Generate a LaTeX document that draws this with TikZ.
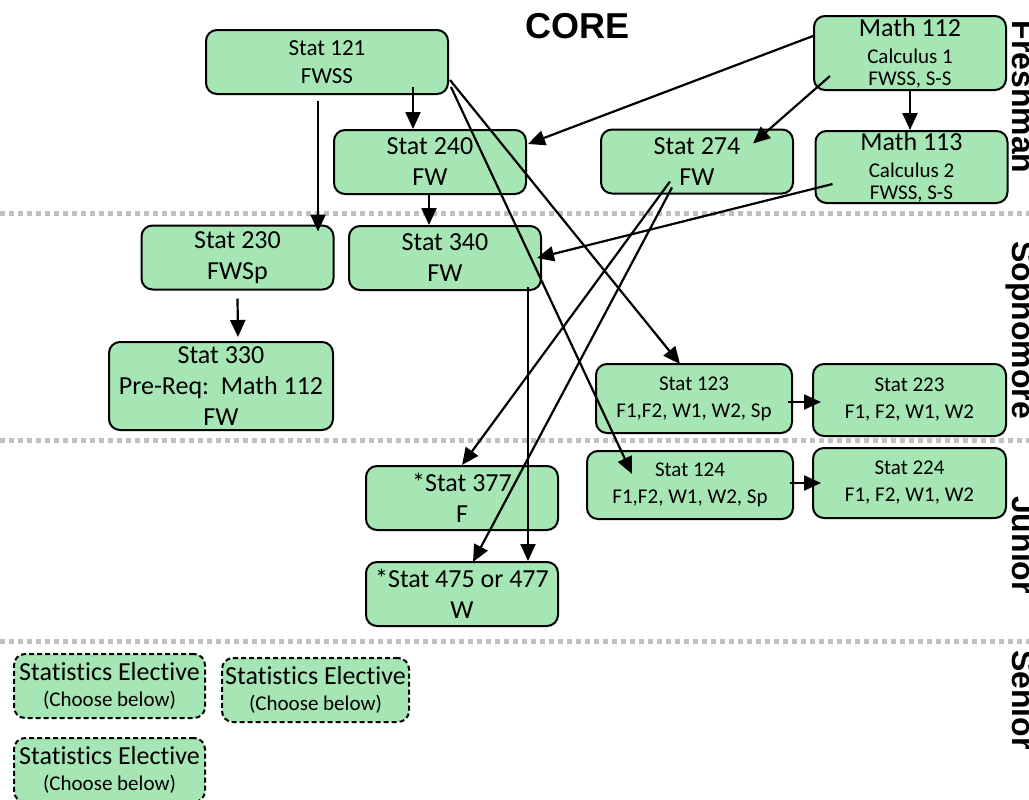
\documentclass[tikz,border=0pt]{standalone}
\usepackage{fontspec}
\setmainfont{Carlito}[Ligatures=NoCommon]
\newfontfamily\headfont{Liberation Sans}
\usepackage{xcolor}
\usetikzlibrary{calc,positioning,arrows.meta}
\definecolor{boxgreen}{RGB}{166,230,180}
\definecolor{sepgray}{RGB}{192,192,192}

\begin{document}
\begin{tikzpicture}[x=0.5pt, y=-0.5pt, >={Triangle[length=8.5pt, width=7.5pt]}]
\tikzstyle{crs}=[draw, fill=boxgreen, line width=1pt, rounded corners=5.5pt, inner sep=0pt, align=center, minimum width=96pt, minimum height=32pt, font=\fontsize{13}{15.5}\selectfont]
\tikzstyle{sml}=[font=\fontsize{10.5}{13.5}\selectfont]
\tikzstyle{elec}=[crs, dash pattern=on 2.5pt off 1.5pt, font=\fontsize{10.5}{13}\selectfont]
\tikzstyle{yr}=[rotate=-90, anchor=base, font=\headfont\bfseries\fontsize{16}{16}\selectfont]
\tikzstyle{sep}=[sepgray, line width=2.5pt, dash pattern=on 2.5pt off 2pt]
\tikzstyle{arr}=[->, line width=1.1pt]

\useasboundingbox (0,0) rectangle (1029,799);

% year separators
\draw[sep] (0,213) -- (1029,213);
\draw[sep] (0,440) -- (1029,440);
\draw[sep] (0,641) -- (1029,641);

\node[anchor=base, font=\headfont\bfseries\fontsize{18}{18}\selectfont] (core) at (578,38) {CORE};
\node[yr] (fresh) at (1012,97) {Freshman};
\node[yr] (soph) at (1012,330) {Sophomore};
\node[yr] (jun) at (1012,545) {Junior};
\node[yr] (sen) at (1012,700) {Senior};

% core courses
\node[crs, minimum width=121pt, font=\fontsize{11.5}{14}\selectfont] (s121) at (327,62) {Stat 121\\FWSS};
\node[crs] (s240) at (430,162) {Stat 240\\FW};
\node[crs] (s274) at (697,161.5) {Stat 274\\FW};
\node[crs, minimum height=37pt, font=\fontsize{10.5}{11}\selectfont] (m112) at (910,53) {{\fontsize{13}{13}\selectfont Math 112}\\[2.5pt]Calculus 1\\FWSS, S-S};
\node[crs, minimum height=36pt, font=\fontsize{10.5}{11}\selectfont] (m113) at (911.5,167) {{\fontsize{13}{13}\selectfont Math 113}\\[2.5pt]Calculus 2\\FWSS, S-S};
\node[crs] (s230) at (237.5,257.5) {Stat 230\\FWSp};
\node[crs] (s340) at (445,258) {Stat 340\\FW};
\node[crs, minimum width=112pt, minimum height=44pt] (s330) at (221,386) {Stat 330\\Pre-Req:\ \ Math 112\\FW};
\node[crs, sml, minimum width=98pt, minimum height=34.5pt] (s123) at (694,398.5) {Stat 123\\F1,F2, W1, W2, Sp};
\node[crs, sml, minimum width=96.5pt, minimum height=36pt] (s223) at (909.5,400) {Stat 223\\F1, F2, W1, W2};
\node[crs, sml, minimum width=103pt, minimum height=34pt] (s124) at (690,485) {Stat 124\\F1,F2, W1, W2, Sp};
\node[crs, sml, minimum width=96.5pt, minimum height=35pt] (s224) at (909.5,483) {Stat 224\\F1, F2, W1, W2};
\node[crs] (s377) at (462,498) {*Stat 377\\F};
\node[crs] (s475) at (462,594) {*Stat 475 or 477\\W};

% electives
\node[elec, minimum width=95.5pt] (el1) at (109.5,686) {{\fontsize{13}{13}\selectfont Statistics Elective}\\(Choose below)};
\node[elec, minimum width=93.5pt] (el2) at (315.5,690) {{\fontsize{13}{13}\selectfont Statistics Elective}\\(Choose below)};
\node[elec, minimum width=95.5pt] (el3) at (109.5,770) {{\fontsize{13}{13}\selectfont Statistics Elective}\\(Choose below)};

% prerequisites
\draw[arr] ($(s121.south)+(86,-8)$) -- ($(s240.north)+(-17,0)$);
\draw[arr] ($(s121.south)+(-9,6)$) -- ($(s230.north)+(80.5,7)$);
\draw[arr] ($(s240.south)+(-1,0)$) -- ($(s340.north)+(-16,0)$);
\draw[arr] ($(s121.east)+(1,18)$) -- ($(s123.north)+(-14,1)$);
\draw[arr] ($(s121.east)+(2,25)$) -- ($(s124.north west)+(46,24)$);
\draw[arr] ($(m112.west)+(0,-17)$) -- ($(s240.east)+(1,-18)$);
\draw[arr] ($(m112.west)+(17,23)$) -- ($(s274.north east)+(-41,15)$);
\draw[arr] (m112.south) -- (m112.south |- m113.north);
\draw[arr] ($(m113.west)+(18,17)$) -- ($(s340.east)+(-5,0)$);
\draw[arr] ($(s274.south)+(-27,-13)$) -- (s377.north);
\draw[arr] ($(s274.south)+(-25,-7)$) -- ($(s475.north)+(11,1)$);
\coordinate (c340) at ($(s340.south east)+(-14,-4)$);
\draw[arr] (c340) -- (c340 |- s475.north);
\draw[arr] ($(s230.south)+(0,8)$) -- ($(s330.north)+(17,-4)$);
\draw[arr] ($(s123.east)+(-5,3.5)$) -- ($(s223.west)+(9,2)$);
\draw[arr] ($(s124.east)+(-4,-2)$) -- ($(s224.west)+(9,0)$);
\end{tikzpicture}
\end{document}
